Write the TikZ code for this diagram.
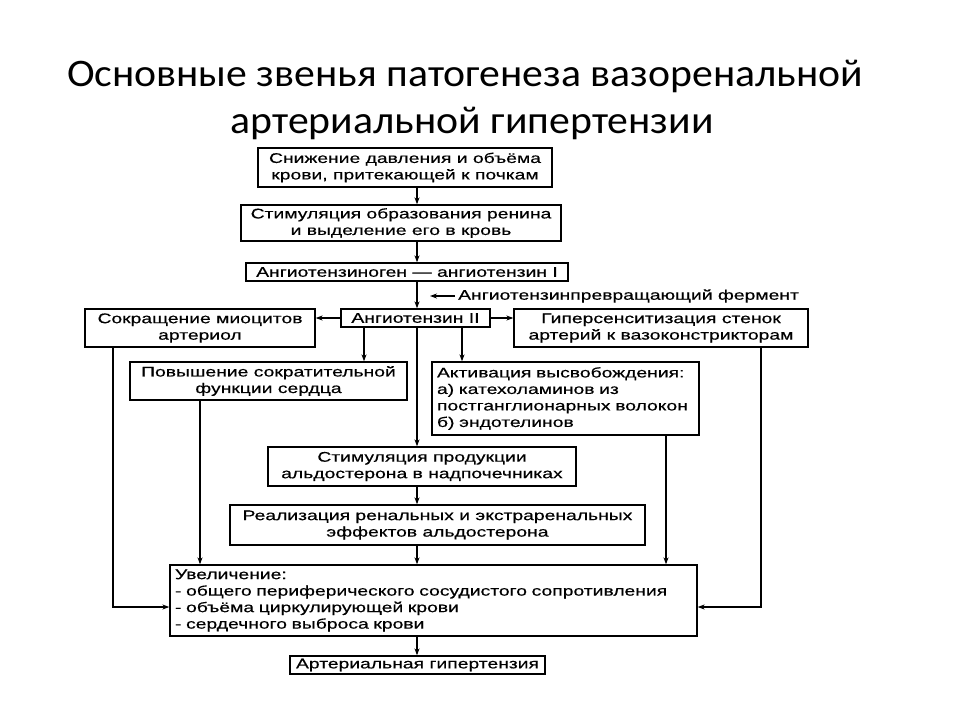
\documentclass[tikz,border=0pt]{standalone}
\usepackage{fontspec}
\usetikzlibrary{arrows.meta,calc}
\newfontfamily\df{Liberation Sans}[FakeStretch=1.38,FakeBold=0.45]
\newfontfamily\tf{Carlito}[FakeStretch=1.07]
\tikzset{
  bx/.style={draw=black, line width=1.3pt, inner sep=0pt, align=center,
     font=\df\fontsize{14}{16.5}\selectfont},
  lbx/.style={bx, align=left, inner xsep=5pt},
  arr/.style={-{Stealth[length=7pt,width=5pt]}, line width=1.1pt},
  ttl/.style={font=\tf\fontsize{39}{46}\selectfont, inner sep=0pt}
}
\begin{document}
\begin{tikzpicture}[x=1pt,y=-1pt]
\useasboundingbox[fill=white] (0,0) rectangle (960,720);
\node[ttl] (t1) at (465,76) {Основные звенья патогенеза вазоренальной};
\node[ttl] (t2) at (472,123) {артериальной гипертензии};

\coordinate (cx) at (417,0);
\node[bx, minimum width=294pt, minimum height=39pt] (b1) at (405,167.5) {Снижение давления и объёма\\крови, притекающей к почкам};
\node[bx, minimum width=320pt, minimum height=36pt] (b2) at (401,223) {Стимуляция образования ренина\\и выделение его в кровь};
\node[bx, minimum width=322pt, minimum height=18pt] (b3) at (407,272) {Ангиотензиноген — ангиотензин I};
\node[bx, minimum width=149pt, minimum height=18pt] (b4) at (415.5,318) {Ангиотензин II};
\node[bx, minimum width=230pt, minimum height=38pt] (bl) at (200,328) {Сокращение миоцитов\\артериол};
\node[bx, minimum width=294pt, minimum height=38pt] (br) at (661,328) {Гиперсенситизация стенок\\артерий к вазоконстрикторам};
\node[bx, minimum width=277pt, minimum height=38pt] (bp) at (268.5,381) {Повышение сократительной\\функции сердца};
\node[lbx, text width=257pt, minimum height=73pt] (ba) at (565.5,398.5) {Активация высвобождения:\\а) катехоламинов из\\\mbox{постганглионарных волокон}\\б) эндотелинов};
\node[bx, minimum width=308pt, minimum height=39pt] (bs) at (422,466.5) {Стимуляция продукции\\альдостерона в надпочечниках};
\node[bx, minimum width=415pt, minimum height=40pt] (bre) at (437.5,525) {Реализация ренальных и экстраренальных\\эффектов альдостерона};
\node[lbx, text width=517pt, minimum height=71pt] (bu) at (433.5,600.5) {Увеличение:\\- общего периферического сосудистого сопротивления\\- объёма циркулирующей крови\\- сердечного выброса крови};
\node[bx, minimum width=255pt, minimum height=18pt] (bh) at (417.5,665) {Артериальная гипертензия};

\node[font=\df\fontsize{14}{16}\selectfont, inner sep=0pt, anchor=west] (enz) at (458,296) {Ангиотензинпревращающий фермент};
\coordinate (enzt) at (430,296);

\draw[arr] (b1.south -| cx) -- (b2.north -| cx);
\draw[arr] (b2.south -| cx) -- (b3.north -| cx);
\draw[arr] (b3.south -| cx) -- (b4.north -| cx);
\draw[arr] (enz.west) ++(-3,0) -- (enzt);
\draw[arr] (b4.west) -- (bl.east |- b4.west);
\draw[arr] (b4.east) -- (br.west |- b4.east);
\coordinate (p1) at (364,0);
\coordinate (p2) at (462,0);
\draw[arr] (b4.south -| p1) -- (bp.north -| p1);
\draw[arr] (b4.south -| p2) -- (ba.north -| p2);
\draw[arr] (b4.south -| cx) -- (bs.north -| cx);
\draw[arr] (bs.south -| cx) -- (bre.north -| cx);
\draw[arr] (bre.south -| cx) -- (bu.north -| cx);
\draw[arr] (bu.south -| cx) -- (bh.north -| cx);

\coordinate (q1) at (200,0);
\coordinate (q2) at (666,0);
\draw[arr] (bp.south -| q1) -- (bu.north -| q1);
\draw[arr] (ba.south -| q2) -- (bu.north -| q2);
\coordinate (lc) at (113,607);
\coordinate (rc) at (761,607);
\draw[arr] (bl.south -| lc) -- (lc) -- (bu.west |- lc);
\draw[arr] (br.south -| rc) -- (rc) -- (bu.east |- rc);
\end{tikzpicture}
\end{document}
